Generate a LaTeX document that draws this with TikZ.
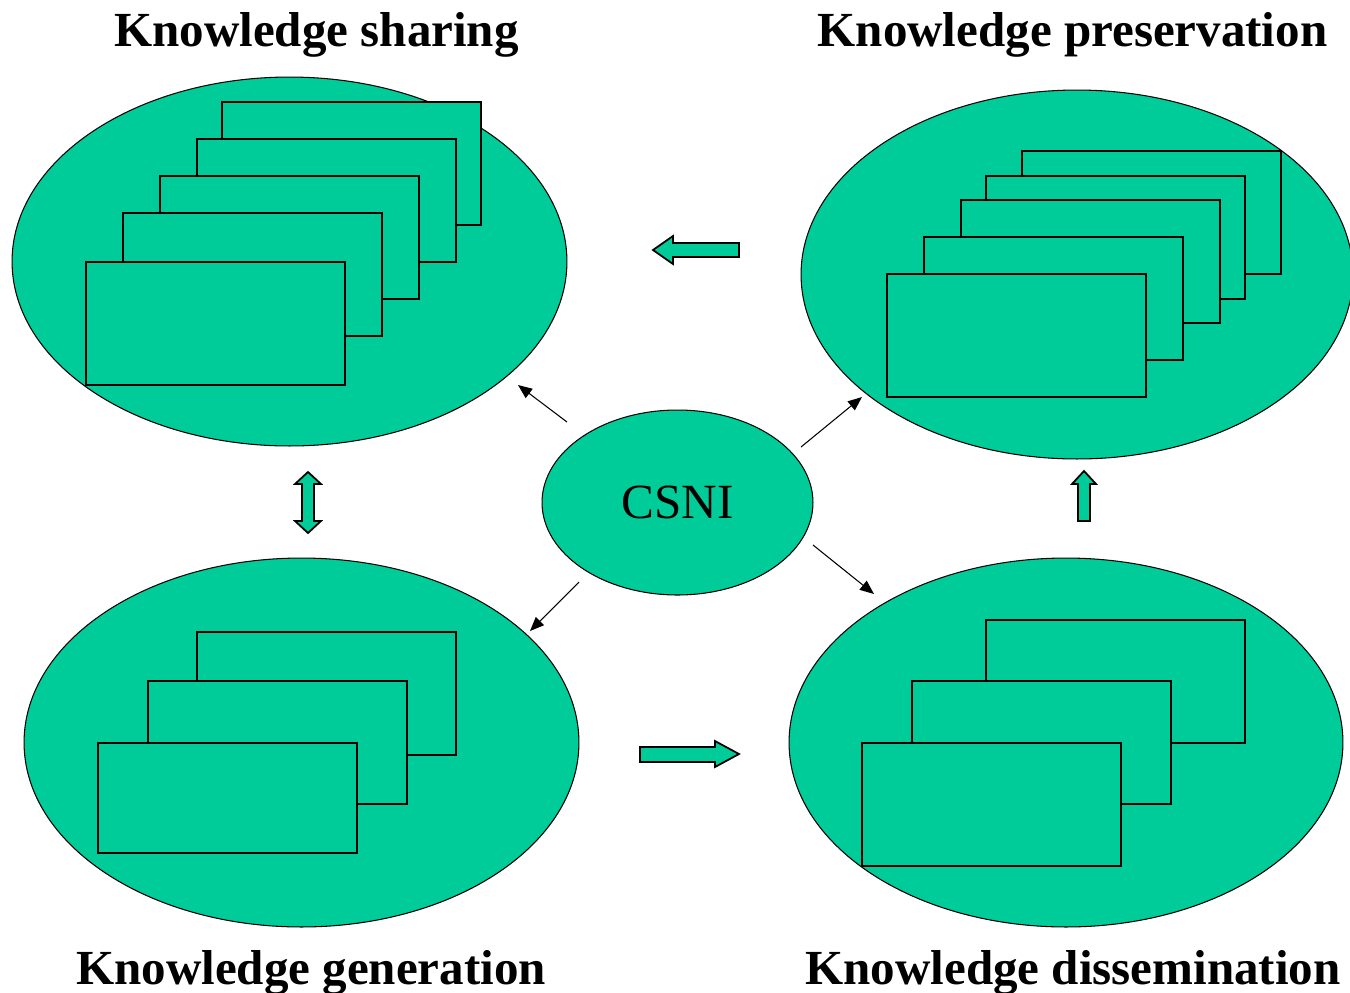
\documentclass[tikz,border=0pt]{standalone}
\usepackage{fontspec}
\setmainfont{Liberation Serif}
\usepackage{pgf,tikz}
\usetikzlibrary{arrows.meta}
\usetikzlibrary{shapes.geometric}
\definecolor{wissgruen}{RGB}{0,204,153}

\begin{document}
\begin{tikzpicture}[x=0.02cm, y=-0.02cm, % Pixelmasse, y nach unten
    blob/.style={ellipse, fill=wissgruen, draw=black, line width=0.6pt, inner sep=0pt},
    blatt/.style={fill=wissgruen, draw=black, line width=0.8pt},
    blockpfeil/.style={fill=wissgruen, draw=black, line width=1pt, line join=miter},
    duenn/.style={-{Triangle[length=8pt,width=6.5pt]}, line width=0.6pt},
    titel/.style={anchor=base, inner sep=0pt, font=\bfseries\fontsize{27.9}{34}\selectfont}]

    \useasboundingbox (0,0) rectangle (1350,992);

    % Ellipsen
    \node[blob, minimum width=11.1cm, minimum height=7.38cm] (teilen) at (289.5,261.5) {};
    \node[blob, minimum width=11.04cm, minimum height=7.38cm] (bewahren) at (1077,274.5) {};
    \node[blob, minimum width=11.1cm, minimum height=7.38cm] (erzeugen) at (301.5,742.5) {};
    \node[blob, minimum width=11.08cm, minimum height=7.38cm] (verbreiten) at (1066,742.5) {};
    \node[blob, minimum width=5.42cm, minimum height=3.7cm,
          font=\fontsize{28}{34}\selectfont] (csni) at (677.5,502.5) {CSNI};

    % Blaetter (von hinten nach vorne)
    \foreach \x/\y/\h in {222/102/123, 197/139/123, 160/176/123, 123/213/123, 86/262/123,
                          1022/151/123, 986/176/123, 961/200/123, 924/237/123, 887/274/123,
                          197/632/123, 148/681/123, 98/743/110,
                          986/620/123, 912/681/123, 862/743/123} {
        \filldraw[blatt] (\x,\y) rectangle ++(259,\h);
    }

    % Ueberschriften
    \node[titel] (tteilen) at (316.5,46.7) {Knowledge sharing};
    \node[titel] (tbewahren) at (1072.5,46.7) {Knowledge preservation};
    \node[titel] (terzeugen) at (311,984) {Knowledge generation};
    \node[titel] (tverbreiten) at (1073,984) {Knowledge dissemination};

    % duenne Pfeile vom CSNI
    \coordinate (s1) at (567,422);   \coordinate (z1) at (518,385);
    \coordinate (s2) at (801,447);   \coordinate (z2) at (862,397);
    \coordinate (s3) at (579,582);   \coordinate (z3) at (530,631);
    \coordinate (s4) at (813,545);   \coordinate (z4) at (874,594);
    \foreach \i in {1,...,4} {
        \draw[duenn] (s\i) -- (z\i);
    }

    % Blockpfeile
    \draw[blockpfeil] (739,243) -- (673,243) -- (673,236) -- (653,250) -- (673,264) -- (673,257) -- (739,257) -- cycle;
    \draw[blockpfeil] (640,747) -- (715,747) -- (715,741) -- (739,754) -- (715,767) -- (715,762) -- (640,762) -- cycle;
    \draw[blockpfeil] (308,472) -- (321,484) -- (314,484) -- (314,521) -- (321,521) -- (308,533)
                      -- (295,521) -- (302,521) -- (302,484) -- (295,484) -- cycle;
    \draw[blockpfeil] (1084,471) -- (1096,484) -- (1090,484) -- (1090,521) -- (1078,521) -- (1078,484) -- (1072,484) -- cycle;

\end{tikzpicture}
\end{document}
